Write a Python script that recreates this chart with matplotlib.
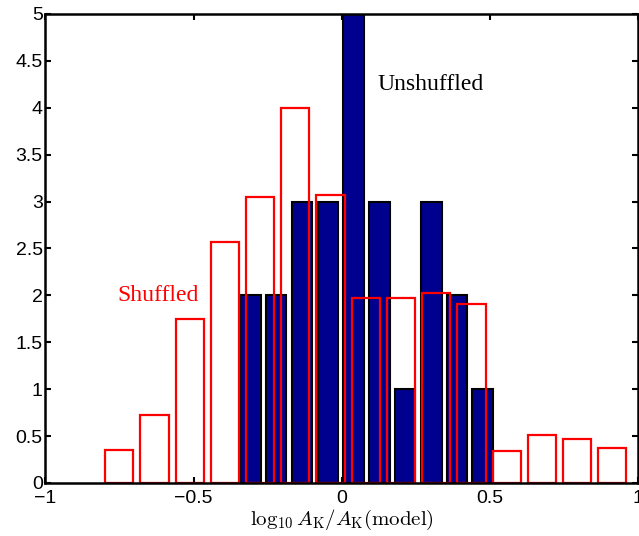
import matplotlib
matplotlib.use("Agg")
import matplotlib.pyplot as plt

plt.rcParams["mathtext.fontset"] = "cm"

# unshuffled histogram (bin centres, counts)
unshuffled_x = [-0.308, -0.221, -0.134, -0.046, 0.041, 0.128, 0.215, 0.303, 0.390, 0.477]
unshuffled_n = [2, 2, 3, 3, 5, 3, 1, 3, 2, 1]

# shuffled histogram (bin centres, mean counts)
shuffled_x = [-0.751, -0.632, -0.513, -0.394, -0.275, -0.156, -0.037, 0.082,
              0.201, 0.320, 0.439, 0.558, 0.677, 0.796, 0.915]
shuffled_n = [0.35, 0.72, 1.745, 2.57, 3.05, 4.0, 3.07, 1.975,
              1.97, 2.03, 1.91, 0.345, 0.515, 0.465, 0.375]

fig = plt.figure(figsize=(6.39, 5.36), dpi=100)
ax = fig.add_axes([0.0712, 0.0989, 0.9265, 0.875])

ax.bar(unshuffled_x, unshuffled_n, width=0.8 * 0.0872, color="#00008F",
       edgecolor="black", linewidth=1.5, zorder=2)
ax.bar(shuffled_x, shuffled_n, width=0.8 * 0.119, facecolor="none",
       edgecolor="#FF0000", linewidth=1.6, zorder=3)

ax.set_xlim(-1, 1)
ax.set_ylim(0, 5)
ax.set_xticks([-1, -0.5, 0, 0.5, 1])
ax.set_xticklabels(["\u22121", "\u22120.5", "0", "0.5", "1"])
ax.set_yticks([0, 0.5, 1, 1.5, 2, 2.5, 3, 3.5, 4, 4.5, 5])
ax.set_yticklabels(["0", "0.5", "1", "1.5", "2", "2.5", "3", "3.5", "4", "4.5", "5"])
ax.tick_params(direction="in", top=True, right=True, length=4, width=1.5,
               labelsize=14)
ax.tick_params(axis="x", pad=5)
ax.tick_params(axis="y", pad=2)
for lab in ax.get_xticklabels() + ax.get_yticklabels():
    lab.set_fontfamily("Liberation Sans")
for s in ax.spines.values():
    s.set_linewidth(1.8)
    s.set_zorder(5)

ax.set_xlabel(r"$\log_{10}A_{\rm K}/A_{\rm K}({\rm model})$", fontsize=15, labelpad=1)

ax.text(0.12, 4.25, "Unshuffled", family="Liberation Serif", fontsize=17,
        color="black", va="center", ha="left")
ax.text(-0.756, 2.0, "Shuffled", family="Liberation Serif", fontsize=17,
        color="#FF0000", va="center", ha="left")

fig.savefig("out.png", dpi=100)
